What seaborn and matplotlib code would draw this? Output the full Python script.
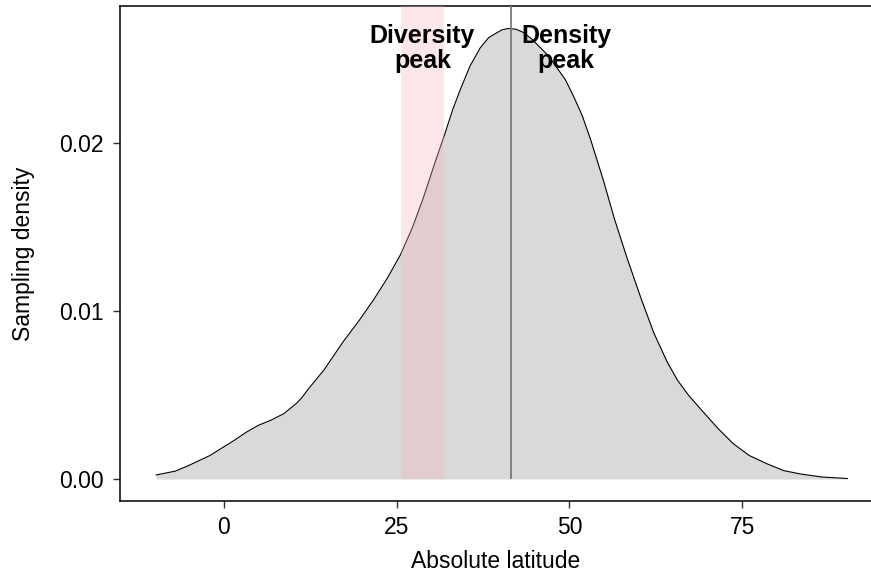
import numpy as np
import pandas as pd
import seaborn as sns
import matplotlib
matplotlib.use('Agg')
import matplotlib.pyplot as plt

# density curve (absolute latitude vs sampling density)
latitude = [-9.8, -7.0, -5.2, -2.0, 1.5, 3.3, 5.0, 6.8, 8.7, 9.6, 10.5, 11.4,
            12.3, 14.5, 17.3, 19.5, 21.7, 23.7, 25.6, 27.3, 28.9, 30.5, 32.0,
            33.1, 34.2, 35.6, 37.1, 38.3, 39.5, 40.3, 41.2, 42.3, 43.4, 44.6,
            45.8, 47.0, 48.2, 49.4, 50.6, 51.8, 53.0, 54.9, 56.5, 58.3, 60.4,
            62.2, 64.1, 65.6, 67.2, 68.9, 71.5, 73.7, 76.0, 78.6, 81.0, 83.4,
            86.5, 90.2]
density = [0.00024, 0.00047, 0.00078, 0.0014, 0.0023, 0.0028, 0.0032, 0.0035,
           0.0039, 0.0042, 0.0045, 0.0049, 0.0054, 0.0065, 0.0082, 0.0094,
           0.0107, 0.0120, 0.0134, 0.0150, 0.0168, 0.0188, 0.0206, 0.0220,
           0.0232, 0.0246, 0.0257, 0.0263, 0.0266, 0.02678, 0.02685, 0.02680,
           0.0266, 0.0262, 0.0257, 0.0252, 0.0245, 0.0238, 0.0228, 0.0217,
           0.0203, 0.0178, 0.0155, 0.0132, 0.0107, 0.0087, 0.0070, 0.0059,
           0.0050, 0.0042, 0.0030, 0.0021, 0.0014, 0.0009, 0.0005, 0.0003,
           0.00012, 0.00003]

diversity_peak = (25.6, 31.9)
density_peak = 41.5

df = pd.DataFrame({'Absolute latitude': latitude, 'Sampling density': density})

sns.set_theme(style='white')
plt.rcParams['font.family'] = ['Liberation Sans', 'DejaVu Sans']

fig = plt.figure(figsize=(8.71, 5.73), dpi=100)
ax = fig.add_axes([120 / 871, 1 - 501 / 573, 1 - 120 / 871, (501 - 6) / 573])

ytop = 0.02819
ax.fill_between(df['Absolute latitude'], 0, df['Sampling density'],
                color='#d9d9d9', lw=0, zorder=1)
sns.lineplot(ax=ax, data=df, x='Absolute latitude', y='Sampling density',
             color='black', lw=0.8, zorder=2)

ax.fill_betweenx([0, ytop], diversity_peak[0], diversity_peak[1],
                 color=(0.96, 0.71, 0.71), alpha=0.32, lw=0, zorder=3)
ax.vlines(density_peak, 0, ytop, color='#7a7a7a', lw=1.3, zorder=4)

ax.text(np.mean(diversity_peak), 0.02566, 'Diversity\npeak', ha='center',
        va='center', fontsize=18, fontweight='bold', linespacing=1.05,
        color='black', zorder=5)
ax.text(49.5, 0.02566, 'Density\npeak', ha='center', va='center',
        fontsize=18, fontweight='bold', linespacing=1.05, color='black', zorder=5)

ax.set_xlim(-15.0, 93.6)
ax.set_ylim(-0.00131, ytop)
ax.set_xticks([0, 25, 50, 75])
ax.set_yticks([0.0, 0.01, 0.02])
ax.set_yticklabels(['0.00', '0.01', '0.02'])
ax.set_xlabel('Absolute latitude', fontsize=16.5, labelpad=8.5, color='black')
ax.set_ylabel('Sampling density', fontsize=16.5, labelpad=17, color='black')
ax.tick_params(axis='both', labelsize=16.5, length=5, width=1.0,
               color='#333333', labelcolor='black', bottom=True, left=True)
ax.tick_params(axis='x', pad=5.5)
ax.tick_params(axis='y', pad=7)

for side in ['top', 'left', 'bottom']:
    ax.spines[side].set_color('black')
    ax.spines[side].set_linewidth(1.1)
ax.spines['right'].set_visible(False)

fig.savefig('out.png', dpi=100)
